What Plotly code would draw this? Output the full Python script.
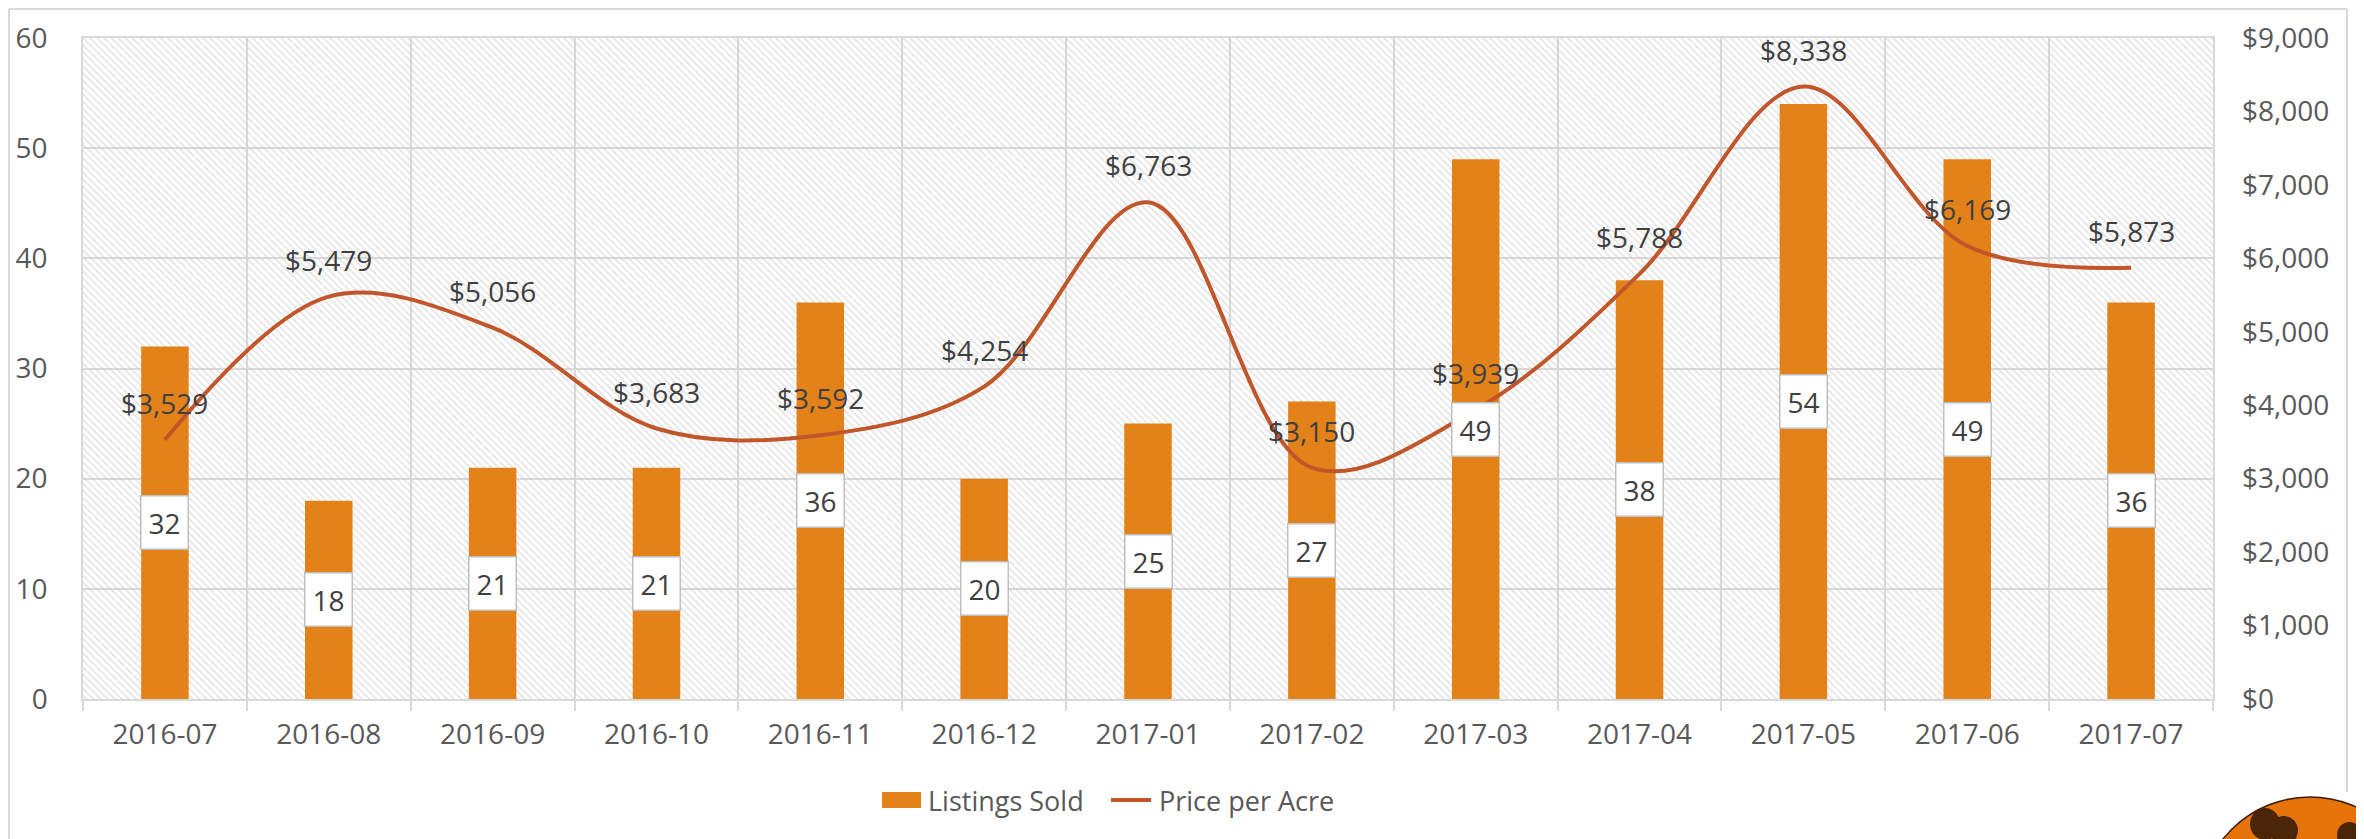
import plotly.graph_objects as go

# Datos
months = ["2016-07", "2016-08", "2016-09", "2016-10", "2016-11", "2016-12", "2017-01",
          "2017-02", "2017-03", "2017-04", "2017-05", "2017-06", "2017-07"]
listings_sold = [32, 18, 21, 21, 36, 20, 25, 27, 49, 38, 54, 49, 36]
price_per_acre = [3529, 5479, 5056, 3683, 3592, 4254, 6763, 3150, 3939, 5788, 8338, 6169, 5873]

LEFT_MAX = 60
RIGHT_MAX = 9000

BAR_COLOR = "#E4821A"
LINE_COLOR = "#C2562B"
GRID = "#D9D9D9"
TICK_FONT = dict(family="Open Sans, sans-serif", size=28, color="#595959")
LEGEND_FONT = dict(family="Open Sans, sans-serif", size=27, color="#595959")
LABEL_FONT = dict(family="Open Sans, sans-serif", size=28, color="#404040")

W, H = 2364, 839
OFF = 8  # margen del <body> en la página
L, R, T, B = 83, 2213, 38, 699  # área de trazado en píxeles de pantalla


def px(x):
    return (x - L) / (R - L)


def py(y):
    return (B - y) / (B - T)


fig = go.Figure()

# Fondo rayado del área de trazado
fig.add_trace(go.Bar(
    x=months,
    y=[LEFT_MAX] * len(months),
    width=1,
    marker=dict(
        color="rgba(0,0,0,0)",
        line=dict(width=0),
        pattern=dict(shape="\\", fgcolor="#CCCCCC", bgcolor="rgba(0,0,0,0)",
                     size=5, solidity=0.35, fillmode="overlay"),
    ),
    showlegend=False,
    hoverinfo="skip",
))

fig.add_trace(go.Bar(
    x=months,
    y=listings_sold,
    name="Listings Sold",
    width=0.29,
    marker=dict(color=BAR_COLOR, line=dict(width=0)),
    showlegend=False,
))

fig.add_trace(go.Scatter(
    x=months,
    y=price_per_acre,
    name="Price per Acre",
    mode="lines",
    line=dict(color=LINE_COLOR, width=4, shape="spline", smoothing=1.0),
    yaxis="y2",
    showlegend=False,
))

annotations = []
for m, v in zip(months, listings_sold):
    annotations.append(dict(
        x=m, y=v / 2, xref="x", yref="y", text=str(v), showarrow=False,
        font=LABEL_FONT, bgcolor="white", bordercolor="#BFBFBF", borderwidth=1.5,
        borderpad=7,
    ))
for m, p in zip(months, price_per_acre):
    annotations.append(dict(
        x=m, y=p, xref="x", yref="y2", text=f"${p:,}", showarrow=False,
        font=LABEL_FONT, yshift=37,
    ))

# Leyenda dibujada a mano (muestra ancha como en Excel)
annotations += [
    dict(x=px(926), y=py(800), xref="paper", yref="paper", text="Listings Sold",
         showarrow=False, xanchor="left", yanchor="middle", font=LEGEND_FONT),
    dict(x=px(1157), y=py(800), xref="paper", yref="paper", text="Price per Acre",
         showarrow=False, xanchor="left", yanchor="middle", font=LEGEND_FONT),
]

shapes = [
    # marco exterior
    dict(type="line", xref="paper", yref="paper", x0=px(9), x1=px(2347), y0=py(9), y1=py(9),
         line=dict(color=GRID, width=2)),
    dict(type="line", xref="paper", yref="paper", x0=px(9), x1=px(9), y0=py(9), y1=py(900),
         line=dict(color=GRID, width=2)),
    dict(type="line", xref="paper", yref="paper", x0=px(2347), x1=px(2347), y0=py(9), y1=py(792),
         line=dict(color=GRID, width=2)),
    # muestras de leyenda
    dict(type="rect", xref="paper", yref="paper", x0=px(882), x1=px(921), y0=py(808), y1=py(792),
         fillcolor=BAR_COLOR, line=dict(width=0)),
    dict(type="line", xref="paper", yref="paper", x0=px(1111), x1=px(1151), y0=py(800), y1=py(800),
         line=dict(color=LINE_COLOR, width=4)),
    # logo
    dict(type="circle", xref="paper", yref="paper", x0=px(2199), x1=px(2421), y0=py(797), y1=py(1019),
         fillcolor="#E6740B", line=dict(color="#3A1C05", width=1.5)),
    dict(type="circle", xref="paper", yref="paper", x0=px(2250), x1=px(2280), y0=py(808), y1=py(840),
         fillcolor="#4A2508", line=dict(width=0)),
    dict(type="circle", xref="paper", yref="paper", x0=px(2270), x1=px(2298), y0=py(816), y1=py(845),
         fillcolor="#4A2508", line=dict(width=0)),
    dict(type="circle", xref="paper", yref="paper", x0=px(2337), x1=px(2362), y0=py(822), y1=py(848),
         fillcolor="#4A2508", line=dict(width=0)),
]

fig.update_layout(
    width=W,
    height=H,
    margin=dict(l=L - OFF, r=W - R + OFF, t=T - OFF, b=H - B + OFF),
    paper_bgcolor="white",
    plot_bgcolor="white",
    barmode="overlay",
    font=TICK_FONT,
    annotations=annotations,
    shapes=shapes,
    showlegend=False,
    xaxis=dict(
        type="category",
        tickson="boundaries",
        showgrid=True, gridcolor=GRID, gridwidth=1.5,
        ticks="outside", ticklen=10, tickcolor=GRID, tickwidth=1.5,
        showline=True, linecolor=GRID, linewidth=1.5, mirror=True,
        tickfont=TICK_FONT, ticklabelstandoff=10, automargin=False,
    ),
    yaxis=dict(
        range=[0, LEFT_MAX], dtick=10,
        showgrid=True, gridcolor=GRID, gridwidth=1.5,
        showline=True, linecolor=GRID, linewidth=1.5, mirror=True,
        zeroline=False,
        tickfont=TICK_FONT, ticklabelstandoff=28, automargin=False,
    ),
    yaxis2=dict(
        range=[0, RIGHT_MAX], dtick=1000, overlaying="y", side="right",
        tickprefix="$", tickformat=",",
        showgrid=False, zeroline=False, showline=False,
        tickfont=TICK_FONT, ticklabelstandoff=28, automargin=False,
    ),
)

fig.write_html("out.html")
